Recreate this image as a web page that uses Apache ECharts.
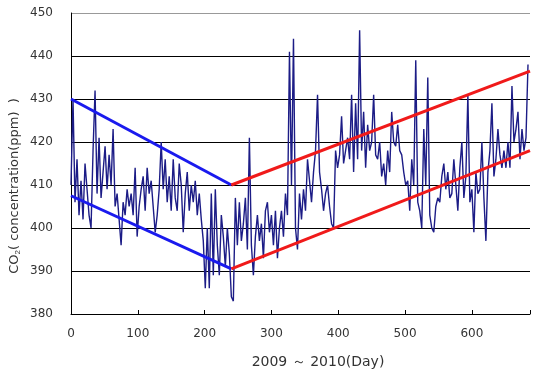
<!DOCTYPE html>
<html>
<head>
<meta charset="utf-8">
<script src="https://cdn.jsdelivr.net/npm/echarts@6/dist/echarts.min.js"></script>
<style>
  html, body { margin: 0; padding: 0; background: #fff; }
  #chart { width: 533px; height: 382px; }
</style>
</head>
<body>
<div id="chart"></div>
<script>
// daily CO2, read every 3rd day from the plot
var dayStep = 3;
var co2 = [
  410, 430, 406, 416, 403, 411, 402, 415, 409, 403,
  400, 418, 432, 408, 421, 407, 413, 419, 409, 417,
  410, 423, 405, 408, 402, 396, 406, 403, 409, 405,
  408, 403, 414, 398, 405, 409, 412, 404, 414, 408,
  411, 405, 399, 403, 409, 420, 409, 416, 406, 412,
  404, 416, 407, 404, 415, 410, 399, 408, 413, 404,
  410, 406, 411, 403, 408, 402, 397, 386, 400, 386,
  408, 389, 409, 396, 389, 403, 398, 391, 400, 394,
  384, 383, 407, 396, 406, 397, 401, 407, 395, 421,
  396, 389, 398, 403, 397, 401, 393, 404, 406, 399,
  403, 396, 404, 393, 400, 404, 398, 408, 403, 441,
  410, 444, 400, 395, 408, 402, 409, 404, 416, 411,
  406, 413, 418, 431, 413, 409, 404, 408, 410, 405,
  401, 400, 418, 414, 417, 426, 415, 418, 421, 416,
  431, 413, 429, 416, 446, 418, 427, 414, 424, 418,
  420, 431, 417, 416, 420, 412, 415, 410, 418, 413,
  427, 420, 419, 424, 418, 417, 413, 410, 411, 404,
  416, 410, 439, 406, 404, 400, 423, 410, 435, 403,
  400, 399, 405, 407, 406, 412, 415, 409, 413, 407,
  408, 416, 410, 404, 414, 420, 407, 412, 431, 406,
  409, 399, 413, 408, 409, 420, 407, 397, 413, 418,
  429, 412, 416, 423, 417, 414, 418, 414, 420, 414,
  433, 420, 423, 427, 416, 423, 418, 421, 438
];

// trend lines [day, ppm]
var blueUpper = [[0, 430], [240, 410]];
var blueLower = [[0, 407.5], [240, 390.5]];
var redUpper = [[240, 410], [687, 436.5]];
var redLower = [[240, 390.5], [687, 418]];

var yTicks = [380, 390, 400, 410, 420, 430, 440, 450];
var xMax = 687;

var co2Data = co2.map(function (v, i) {
    return [i * dayStep, v];
});

var chart = echarts.init(document.getElementById('chart'));

function trend(data, color) {
    return {
        type: 'line',
        data: data,
        symbol: 'none',
        silent: true,
        z: 5,
        lineStyle: { color: color, width: 3 }
    };
}

var option = {
    animation: false,
    backgroundColor: '#fff',
    grid: {
        left: 71,
        right: 0,
        top: 13,
        bottom: 68
    },
    xAxis: {
        type: 'value',
        min: 0,
        max: xMax,
        interval: 100,
        axisLine: { lineStyle: { color: '#000', width: 1 } },
        axisTick: { show: true, inside: true, length: 4, lineStyle: { color: '#000' } },
        axisLabel: {
            margin: 14,
            color: '#333',
            fontSize: 12,
            fontFamily: 'DejaVu Sans',
            formatter: function (v) {
                return v % 100 === 0 ? String(v) : '';
            }
        },
        splitLine: { show: false }
    },
    yAxis: {
        type: 'value',
        min: yTicks[0],
        max: yTicks[yTicks.length - 1],
        interval: 10,
        axisLine: { show: true, lineStyle: { color: '#000', width: 1 } },
        axisTick: { show: false },
        axisLabel: {
            margin: 18,
            color: '#333',
            fontSize: 12,
            fontFamily: 'DejaVu Sans'
        },
        splitLine: {
            show: true,
            lineStyle: {
                color: ['#000', '#000', '#000', '#000', '#000', '#000', '#000', '#999'],
                width: 1
            }
        }
    },
    graphic: [
        {
            type: 'text',
            x: 15,
            y: 186,
            rotation: Math.PI / 2,
            style: {
                text: 'CO{sub|2}( concentration(ppm)  )',
                font: '13px "DejaVu Sans"',
                fill: '#333',
                align: 'center',
                verticalAlign: 'middle',
                rich: {
                    sub: { fontSize: 8, fill: '#333', verticalAlign: 'bottom', padding: [6, 0, 0, 0] }
                }
            }
        },
        {
            type: 'text',
            x: 318,
            y: 362,
            style: {
                text: '2009 ～ 2010(Day)',
                font: '14px "DejaVu Sans"',
                fill: '#333',
                align: 'center',
                verticalAlign: 'middle'
            }
        }
    ],
    series: [
        {
            type: 'line',
            data: co2Data,
            symbol: 'none',
            z: 3,
            lineStyle: { color: '#1c1c86', width: 1.4 }
        },
        trend(blueUpper, '#1a1aee'),
        trend(blueLower, '#1a1aee'),
        trend(redUpper, '#f01a1a'),
        trend(redLower, '#f01a1a')
    ]
};

chart.setOption(option);
</script>
</body>
</html>
